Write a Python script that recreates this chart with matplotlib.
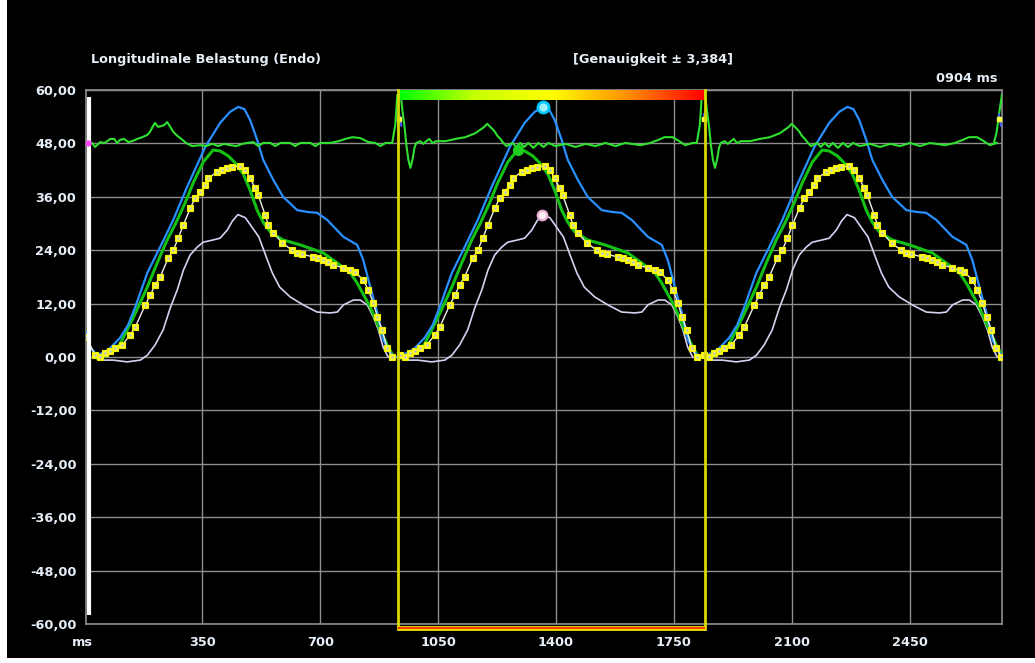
import numpy as np
import matplotlib.pyplot as plt
from matplotlib.colors import LinearSegmentedColormap
from matplotlib.patches import Rectangle

# ---------------------------------------------------------------------------
# data: one heart cycle, time in ms from cycle start, strain values
# ---------------------------------------------------------------------------
cycle_ms = 904
cycle_starts = [28, 932, 1836]
box_left, box_right = 931, 1842

blue_t = [10, 31, 49, 78, 102, 123, 159, 197, 236, 277, 331, 375, 405, 429, 447,
          464, 485, 503, 533, 562, 604, 634, 663, 693, 741, 782, 800, 821, 842,
          860, 880, 898]
blue_v = [0.4, 1.1, 2.0, 4.3, 7.2, 11.2, 18.9, 24.7, 30.8, 38.2, 47.2, 52.6, 55.1,
          56.2, 55.7, 53.3, 48.8, 44.3, 39.8, 36.0, 33.0, 32.6, 32.4, 30.8, 27.0,
          25.2, 21.8, 15.7, 9.9, 3.8, 0.9, 0.0]

green_t = [10, 34, 55, 78, 117, 159, 188, 218, 245, 271, 295, 325, 354, 375, 399,
           420, 444, 464, 485, 503, 524, 562, 613, 681, 723, 762, 782, 821, 850,
           871, 889]
green_v = [-0.2, 0.2, 1.1, 2.9, 8.8, 15.7, 21.1, 26.3, 30.3, 34.6, 39.1, 43.8,
           46.5, 46.3, 45.2, 43.6, 41.1, 37.5, 33.0, 30.3, 28.1, 26.3, 25.2, 23.4,
           21.1, 18.9, 16.6, 11.2, 6.1, 2.7, 0.2]

yellow_t = [4, 19, 34, 49, 64, 84, 108, 123, 153, 168, 182, 197, 221, 236, 251,
            266, 287, 301, 316, 331, 340, 367, 381, 396, 411, 435, 450, 464, 479,
            488, 509, 518, 533, 560, 589, 604, 619, 651, 666, 681, 696, 711, 741,
            762, 776, 800, 815, 830, 842, 856, 871, 886]
yellow_v = [0.4, 0.0, 0.9, 1.3, 2.0, 2.7, 4.9, 6.7, 11.7, 13.9, 16.2, 18.0, 22.2,
            24.0, 26.7, 29.7, 33.5, 35.7, 37.1, 38.6, 40.2, 41.6, 42.0, 42.5, 42.7,
            42.9, 42.0, 40.2, 38.0, 36.4, 31.9, 29.7, 27.9, 25.6, 24.0, 23.4, 23.1,
            22.5, 22.2, 21.8, 21.3, 20.7, 20.0, 19.5, 19.1, 17.3, 15.1, 12.1, 9.0,
            6.1, 2.0, 0.0]

white_t = [19, 58, 99, 138, 159, 182, 206, 227, 248, 266, 286, 307, 325, 354, 375,
           396, 412, 428, 450, 490, 512, 530, 552, 583, 622, 663, 702, 723, 741,
           771, 791, 812, 830, 845, 859, 874]
white_v = [-0.7, -0.7, -1.1, -0.7, 0.4, 2.7, 6.1, 11.0, 15.1, 19.5, 22.9, 24.7,
           25.8, 26.3, 26.7, 28.5, 30.6, 32.0, 31.3, 27.0, 22.5, 18.9, 15.7, 13.5,
           11.7, 10.1, 9.9, 10.1, 11.7, 12.8, 12.8, 11.7, 9.0, 6.1, 2.2, 0.0]

# first partial samples at the left edge of the trace
lead_t = [5, 14]
blue_lead = [5.4, 2.5]
yellow_lead = [4.5]

# ECG-like reference trace (absolute ms for the first cycle)
ecg1_t = [11, 23, 32, 47, 59, 68, 77, 89, 97, 106, 118, 130, 142, 157, 172, 187,
          195, 204, 210, 219, 228, 237, 246, 255, 264, 276, 288, 302, 320, 344,
          362, 380, 397, 415, 433, 451, 469, 484, 502, 516, 531, 552, 567, 582,
          611, 626, 641, 671, 686, 700, 730, 754, 775, 796, 819, 843, 864, 879, 894]
ecg1_v = [48.0, 48.1, 47.2, 48.3, 48.1, 48.5, 49.0, 49.0, 48.1, 48.8, 49.0, 48.3,
          48.5, 49.0, 49.4, 49.9, 50.6, 51.9, 52.6, 51.7, 51.9, 52.1, 52.8, 51.7,
          50.6, 49.7, 49.0, 48.1, 47.4, 47.6, 47.4, 47.9, 47.4, 47.9, 47.6, 47.4,
          47.9, 48.1, 48.3, 47.4, 48.1, 48.1, 47.4, 48.1, 48.1, 47.4, 48.1, 48.1,
          47.4, 48.1, 48.1, 48.5, 49.0, 49.4, 49.2, 48.3, 48.1, 47.4, 48.1]
# following cycles, ms from cycle start
ecg_t = [-18, -9, -3, 6, 9, 12, 18, 24, 30, 36, 42, 48, 53, 65, 74, 83, 92, 101,
         113, 140, 169, 199, 229, 255, 264, 273, 285, 294, 303, 312, 321, 339,
         350, 362, 374, 386, 401, 416, 431, 446, 466, 496, 526, 556, 585, 615,
         645, 674, 719, 748, 772, 790, 814, 832, 852, 873]
ecg_v = [48.1, 52.1, 58.9, 59.5, 57.7, 55.5, 52.1, 47.6, 44.3, 42.5, 44.3, 47.0,
         48.1, 48.5, 47.9, 48.5, 49.0, 48.1, 48.5, 48.5, 49.0, 49.4, 50.3, 51.7,
         52.4, 51.7, 50.8, 49.7, 49.0, 48.1, 47.4, 48.1, 47.2, 48.1, 47.2, 48.1,
         47.0, 48.1, 47.2, 48.1, 47.4, 47.9, 47.2, 47.9, 47.4, 48.1, 47.4, 48.1,
         47.6, 48.1, 48.8, 49.4, 49.4, 48.6, 47.6, 48.1]
ecg_tail_t = [2700, 2708, 2716, 2724]
ecg_tail_v = [48.1, 50.5, 55.0, 59.0]

x_ticks = [350, 700, 1050, 1400, 1750, 2100, 2450]
y_ticks = [60, 48, 36, 24, 12, 0, -12, -24, -36, -48, -60]

title_left = "Longitudinale Belastung (Endo)"
title_mid = "[Genauigkeit ± 3,384]"
cursor_text = "0904 ms"

# ---------------------------------------------------------------------------
txt = '#e6eef8'
grid_c = '#8e8e8e'
font = dict(family='DejaVu Sans', weight='bold', size=9.3, color=txt)

fig = plt.figure(figsize=(10.35, 6.63), dpi=100)
fig.patch.set_facecolor('white')
# black screen panel inside a thin light margin
fig.patches.append(Rectangle((7 / 1035, 5 / 663), 1, 1, transform=fig.transFigure,
                             facecolor='black', edgecolor='none', zorder=-10))

ax = fig.add_axes([86 / 1035, 1 - 624 / 663, (1002 - 86) / 1035, (624 - 90) / 663])
ax.set_facecolor('black')
ax.set_xlim(5, 2724)
ax.set_ylim(-60, 60)

for s in ax.spines.values():
    s.set_color(grid_c)
    s.set_linewidth(1.2)

ax.set_xticks(x_ticks)
ax.set_xticklabels([str(v) for v in x_ticks], fontdict=font)
ax.set_yticks(y_ticks)
ax.set_yticklabels([f"{v:.2f}".replace('.', ',') for v in y_ticks], fontdict=font)
ax.tick_params(length=0, pad=7)
ax.tick_params(axis='x', pad=9)
ax.grid(True, color=grid_c, lw=1)
ax.set_axisbelow(True)
fig.text(82 / 1035, 1 - 642 / 663, 'ms', ha='center', va='center', **font)

# white bar along the left edge
ax.plot([0.003, 0.003], [58.4, -58.0], color='white', lw=3,
        transform=ax.get_yaxis_transform(), solid_capstyle='butt', zorder=6)

# curves, repeated for every cycle
for k, c0 in enumerate(cycle_starts):
    bt = np.array(blue_t) + c0
    bv = np.array(blue_v)
    yt = np.array(yellow_t) + c0
    yv = np.array(yellow_v)
    if k == 0:
        bt = np.concatenate([lead_t, bt])
        bv = np.concatenate([blue_lead, bv])
        yt = np.concatenate([lead_t[:1], yt])
        yv = np.concatenate([yellow_lead, yv])
    ax.plot(np.array(white_t) + c0, white_v, color='#d8d0f0', lw=1.2, zorder=3)
    ax.plot(np.array(green_t) + c0, green_v, color='#14c014', lw=2.2, zorder=3)
    ax.plot(bt, bv, color='#2890ff', lw=1.6, zorder=4)
    ax.plot(yt, yv, color='#f0f0e8', lw=1, marker='s', ms=4.3,
            mfc='#ffff20', mec='#f0f000', mew=0.8, zorder=5)
    ax.plot(yt, yv, ls='none', marker='s', ms=1.8, mfc='#a8b0ff', mec='none', zorder=5)

# ECG trace
et = [np.array(ecg1_t)]
ev = [np.array(ecg1_v)]
for c0 in cycle_starts[1:]:
    et.append(np.array(ecg_t) + c0)
    ev.append(np.array(ecg_v))
et.append(np.array(ecg_tail_t))
ev.append(np.array(ecg_tail_v))
ax.plot(np.concatenate(et), np.concatenate(ev), color='#30e030', lw=1.5, zorder=4)
ax.plot(ecg1_t[0], ecg1_v[0], 'o', ms=3.5, color='#ff40ff', zorder=7)

# small cycle-start marks
for c0 in cycle_starts[1:] + [2712]:
    ax.plot([c0 + 3, c0 + 9], [54.5, 52.0], color='#4060ff', lw=1.5, zorder=6)
    ax.plot(c0 + 3, 53.5, 's', ms=2.5, color='#ffff40', zorder=6)

# selected cycle: peak markers
c0 = cycle_starts[1]
i = int(np.argmax(blue_v))
ax.plot(blue_t[i] + c0, blue_v[i], 'o', ms=8, mfc='#a0f0ff', mec='#00c8ff', mew=2, zorder=8)
i = int(np.argmax(green_v))
ax.plot(green_t[i] + c0, green_v[i], 'o', ms=7, color='#20d020', zorder=8)
i = int(np.argmax(white_v))
ax.plot(white_t[i] + c0, white_v[i], 'o', ms=7, mfc='#fff0f8', mec='#e8a8d0', mew=1.5, zorder=8)

# selection box with colour bar on top
for x in (box_left, box_right):
    ax.plot([x, x], [60, -61.1], color='#d8d800', lw=2, clip_on=False, zorder=9)
ax.plot([box_left, box_right], [-60.8, -60.8], color='#e8e000', lw=3.5, clip_on=False,
        solid_capstyle='butt', zorder=9)
ax.plot([box_left, box_right], [-60.8, -60.8], color='#ff3800', lw=1.4, clip_on=False,
        solid_capstyle='butt', zorder=10)
cmap = LinearSegmentedColormap.from_list('acc', ['#00ff00', '#c8ff00', '#ffff00',
                                                 '#ff9000', '#ff0000'])
ax.imshow(np.linspace(0, 1, 256)[None, :], cmap=cmap, aspect='auto',
          extent=[box_left + 4, box_right - 4, 57.7, 60], zorder=8)

fig.text(206 / 1035, 1 - 59 / 663, title_left, ha='center', va='center', **font)
fig.text(653 / 1035, 1 - 59 / 663, title_mid, ha='center', va='center', **font)
fig.text(997 / 1035, 1 - 79 / 663, cursor_text, ha='right', va='center', **font)

fig.savefig('out.png', dpi=100, facecolor=fig.get_facecolor())
